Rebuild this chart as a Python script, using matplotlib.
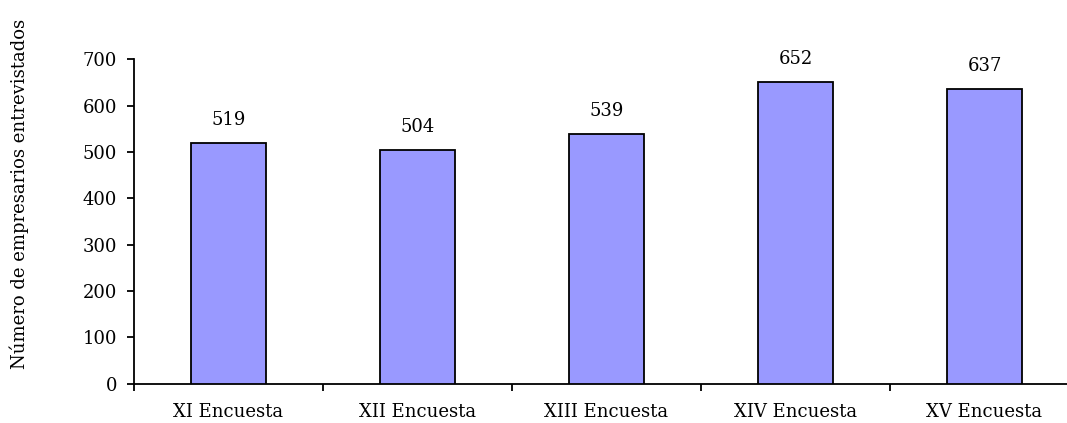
import matplotlib
matplotlib.use("Agg")
import matplotlib.pyplot as plt
import numpy as np

categories = ["XI Encuesta", "XII Encuesta", "XIII Encuesta", "XIV Encuesta", "XV Encuesta"]
values = [519, 504, 539, 652, 637]

plt.rcParams['font.family'] = ['DejaVu Serif']
plt.rcParams['font.size'] = 13

fig = plt.figure(figsize=(10.67, 4.23), dpi=100)
# axes spans x 134..1079 px (right end cut by figure edge), y 59.5..383.7 px
ax = fig.add_axes([134 / 1067, (423 - 383.7) / 423, (1079 - 134) / 1067, (383.7 - 59.5) / 423])

x = np.arange(len(categories))
ax.bar(x, values, width=0.40, color="#9999FF", edgecolor="black", linewidth=1.3, zorder=3)

for xi, v in zip(x, values):
    ax.text(xi, v + 39, str(v), ha="center", va="baseline")

ax.set_xlim(-0.5, len(categories) - 0.5)
ax.set_ylim(0, 700)
ax.set_yticks(np.arange(0, 701, 100))

ax.set_xticks(x)
ax.set_xticklabels(categories)
ax.tick_params(axis="x", length=0, pad=14)
ax.set_xticks(np.arange(-0.5, len(categories), 1), minor=True)
ax.tick_params(axis="x", which="minor", length=5, width=1.3, direction="out")
ax.tick_params(axis="y", length=5, width=1.3, direction="out", pad=7)

for s in ["top", "right"]:
    ax.spines[s].set_visible(False)
for s in ["left", "bottom"]:
    ax.spines[s].set_linewidth(1.3)

ax.set_ylabel("Número de empresarios entrevistados")
ax.yaxis.set_label_coords(-0.111, 0.585)

fig.savefig("out.png", dpi=100)
